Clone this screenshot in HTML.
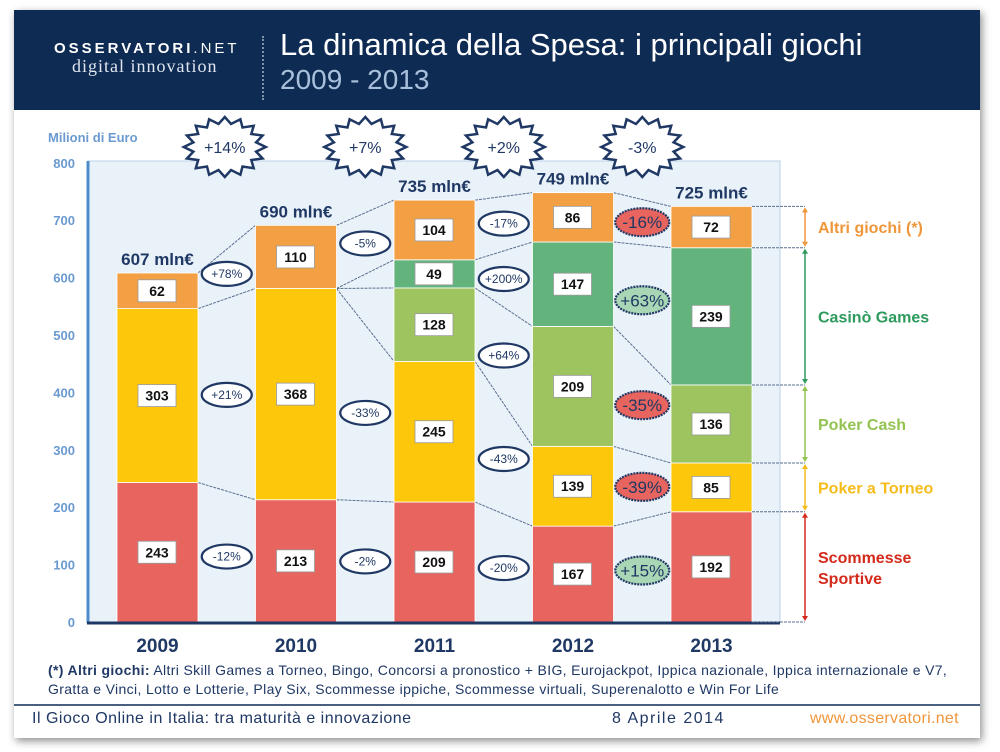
<!DOCTYPE html>
<html><head><meta charset="utf-8">
<style>
body{margin:0;width:1000px;height:752px;background:#fff;overflow:hidden;font-family:"Liberation Sans",sans-serif}
#slide{position:absolute;left:14px;top:10px;width:966px;height:728px;background:#fff;box-shadow:2px 3px 8px rgba(0,0,0,.45)}
#hdr{position:absolute;left:0;top:0;width:966px;height:100px;background:#0e2b53}
svg text{font-family:"Liberation Sans",sans-serif}
</style></head><body>
<div id="slide">
 <div id="hdr">
  <div style="position:absolute;left:40px;top:30px;color:#fff;font-size:15px;letter-spacing:3px;font-weight:bold">OSSERVATORI<span style="font-weight:normal">.NET</span></div>
  <div style="position:absolute;left:58px;top:46px;color:#dfe6ef;font-family:'Liberation Serif',serif;font-size:18px;letter-spacing:1px">digital innovation</div>
  <div style="position:absolute;left:248px;top:26px;height:64px;border-left:2px dotted #7f93ad"></div>
  <div style="position:absolute;left:266px;top:17px;color:#fff;font-size:31px;white-space:nowrap">La dinamica della Spesa: i principali giochi</div>
  <div style="position:absolute;left:266px;top:54px;color:#a9c0dd;font-size:28px">2009 - 2013</div>
 </div>
</div>
<svg id="ch" width="1000" height="752" style="position:absolute;left:0;top:0"></svg>
<div style="position:absolute;left:48px;top:661px;font-size:14px;letter-spacing:0.35px;color:#1f3864;line-height:19px;white-space:nowrap"><b>(*) Altri giochi:</b> Altri Skill Games a Torneo, Bingo, Concorsi a pronostico + BIG, Eurojackpot, Ippica nazionale, Ippica internazionale e V7,<br>Gratta e Vinci, Lotto e Lotterie, Play Six, Scommesse ippiche, Scommesse virtuali, Superenalotto e Win For Life</div>
<div style="position:absolute;left:14px;top:704px;width:966px;height:2px;background:#4a6080"></div>
<div style="position:absolute;left:32px;top:710px;font-size:16px;letter-spacing:0.5px;color:#1f3864;white-space:nowrap">Il Gioco Online in Italia: tra maturità e innovazione</div>
<div style="position:absolute;left:612px;top:710px;font-size:16px;letter-spacing:1.5px;color:#1f3864">8 Aprile 2014</div>
<div style="position:absolute;left:810px;top:710px;font-size:16px;letter-spacing:0.3px;color:#f0963a">www.osservatori.net</div>
<script>
const years=["2009","2010","2011","2012","2013"];
const series=["Scommesse Sportive","Poker a Torneo","Poker Cash","Casinò Games","Altri giochi (*)"];
const sport=[243,213,209,167,192];
const torneo=[303,368,245,139,85];
const cash=[0,0,128,209,136];
const casino=[0,0,49,147,239];
const altri=[62,110,104,86,72];
const totals=[607,690,735,749,725];
const yearGrowth=["+14%","+7%","+2%","-3%"];
const segGrowth=[["-12%","+21%",null,null,"+78%"],["-2%","-33%",null,null,"-5%"],["-20%","-43%","+64%","+200%","-17%"],["+15%","-39%","-35%","+63%","-16%"]];
const yTicks=[0,100,200,300,400,500,600,700,800];
const colors=["#e8655f","#fdc70c","#9dc45f","#63b47c","#f3a044"];
const legendColors=["#d42a1c","#f6bc1b","#93c452","#2e9a5d","#f0963a"];
const data=[sport,torneo,cash,casino,altri];
const NS="http://www.w3.org/2000/svg";
const svg=document.getElementById('ch');
const y=v=>622-v*0.574;
const x0=117,step=138.5,bw=81;
const bx=i=>x0+i*step;
function el(t,a,p){const e=document.createElementNS(NS,t);for(const k in a)e.setAttribute(k,a[k]);(p||svg).appendChild(e);return e;}
function txt(s,a){const e=el('text',a);e.textContent=s;return e;}
let r=el('rect',{x:88,y:161,width:692,height:461,fill:"#eaf2f9",stroke:"#b8d0e8"});

yTicks.forEach(t=>{const e=txt(String(t),{x:75,y:y(t)+5,"text-anchor":"end","font-size":13,"font-weight":"bold",fill:"#6a9ad0"});
});
let yt=txt("Milioni di Euro",{x:48,y:142,"font-size":13,"font-weight":"bold",fill:"#6a9ad0"});

for(let i=0;i<4;i++){let c1=0,c2=0;
 for(let s=0;s<5;s++){c1+=data[s][i];c2+=data[s][i+1];
  if(data[s][i]===0&&data[s][i+1]===0)continue;
  const l=el('line',{x1:bx(i)+bw,y1:y(c1),x2:bx(i+1),y2:y(c2),stroke:"#5a6f8f","stroke-width":1,"stroke-dasharray":"3,1"});
  }}
years.forEach((yr,i)=>{let c=0;
 for(let s=0;s<5;s++){const v=data[s][i];if(!v)continue;
  const b=el('rect',{x:bx(i),y:y(c+v),width:bw,height:y(c)-y(c+v),fill:colors[s],stroke:"#fff","stroke-width":0.8});
  
  const cy=(y(c)+y(c+v))/2;
  const lb=el('rect',{x:bx(i)+21,y:cy-11,width:38,height:22,fill:"#fff",stroke:"#999","stroke-width":0.8});
  
  const t=txt(String(v),{x:bx(i)+40,y:cy+5,"text-anchor":"middle","font-size":14,"font-weight":"bold",fill:"#111"});
  
  c+=v;}
 const tl=txt(totals[i]+" mln€",{x:bx(i)+bw/2,y:y(c)-8,"text-anchor":"middle","font-size":17,"font-weight":"bold",fill:"#1f3864"});
 
 const xl=txt(yr,{x:bx(i)+bw/2,y:652,"text-anchor":"middle","font-size":19,"font-weight":"bold",fill:"#1f3864"});
 
});
let ax=el('line',{x1:88,y1:161,x2:88,y2:623,stroke:"#4a8ccc","stroke-width":3});
let bx2=el('line',{x1:87,y1:623,x2:780,y2:623,stroke:"#1f3864","stroke-width":3});
segGrowth.forEach((g,i)=>{let c1=0,c2=0;
 for(let s=0;s<5;s++){c1+=data[s][i];c2+=data[s][i+1];if(!g[s])continue;
  const m1=c1-data[s][i]/2,m2=c2-data[s][i+1]/2;let cy=(y(m1)+y(m2))/2;
  const cx=bx(i)+bw+(step-bw)/2;const last=i===3;
  const fill=last?(g[s][0]=="+"?"#a9d6b4":"#e8655f"):"#fff";
  const o=el('ellipse',{cx:cx,cy:cy,rx:last?27:25,ry:last?14:12,fill:fill,stroke:"#1f3864","stroke-width":2.2,"stroke-dasharray":last?"2,1":"none"});
  
  const t=txt(g[s],{x:cx,y:cy+(last?6:4),"text-anchor":"middle","font-size":last?17:12,fill:"#1f3864"});
  }});
yearGrowth.forEach((g,i)=>{const cx=bx(i)+bw+(step-bw)/2+(i==0?-2:0),cy=147;let pts=[];const n=16;
 for(let k=0;k<2*n;k++){const a=k*Math.PI/n;const rr=k%2?0.78:1;pts.push((cx+41*rr*Math.cos(a)).toFixed(1)+","+(cy+30*rr*Math.sin(a)).toFixed(1));}
 const p=el('polygon',{points:pts.join(" "),fill:"#fff",stroke:"#1f3864","stroke-width":2.5});
 
 const t=txt(g,{x:cx,y:cy+6,"text-anchor":"middle","font-size":16,fill:"#1f3864"});
 });
let c=0;const lx=805;
for(let s=0;s<5;s++){const v=data[s][4];
 const ya=y(c),yb=y(c+v);
 const d=el('line',{x1:bx(4)+bw,y1:yb,x2:lx,y2:yb,stroke:"#5a6f8f","stroke-dasharray":"3,1"});
 if(s==0){const d0=el('line',{x1:bx(4)+bw,y1:ya,x2:lx,y2:ya,stroke:"#5a6f8f","stroke-dasharray":"3,1"});}
 const a=el('line',{x1:lx,y1:ya-3,x2:lx,y2:yb+3,stroke:legendColors[s],"stroke-width":1.5});
 el('polygon',{points:`${lx-3},${yb+6} ${lx+3},${yb+6} ${lx},${yb+1}`,fill:legendColors[s]});
 el('polygon',{points:`${lx-3},${ya-6} ${lx+3},${ya-6} ${lx},${ya-1}`,fill:legendColors[s]});
 const my=(ya+yb)/2;
 if(s==0){const t=txt("Scommesse",{x:818,y:my-4,"font-size":16,"font-weight":"bold",fill:legendColors[s]});
  const t2=txt("Sportive",{x:818,y:my+17,"font-size":16,"font-weight":"bold",fill:legendColors[s]});}
 else{const t=txt(series[s],{x:818,y:my+6,"font-size":16,"font-weight":"bold",fill:legendColors[s]});}
 c+=v;}
</script>
</body></html>
